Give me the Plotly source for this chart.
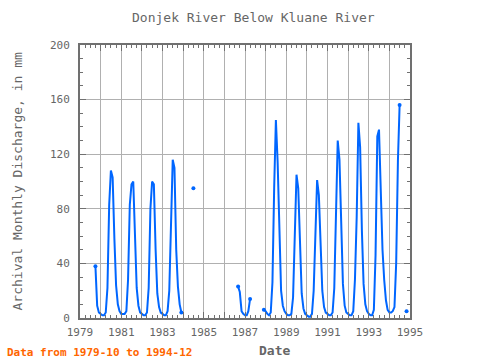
import plotly.graph_objects as go

# ---------------- data (monthly values, mm; None = missing) ----------------
y1979 = [None, None, None, None, None, None, None, None, None, 38, 9, 4]
y1980 = [3, 2, 2, 4, 22, 83, 108, 103, 58, 24, 10, 5]
y1981 = [3, 3, 3, 5, 28, 83, 98, 100, 55, 22, 9, 4]
y1982 = [3, 2, 2, 4, 22, 80, 100, 98, 50, 18, 8, 4]
y1983 = [3, 2, 2, 5, 20, 70, 116, 110, 50, 23, 10, 4]
y1984 = [None, None, None, None, None, None, 95, None, None, None, None, None]
y1985 = [None] * 12
y1986 = [None, None, None, None, None, None, None, None, 23, 19, 5, 3]
y1987 = [2, 2, 5, 14, None, None, None, None, None, None, None, 6]
y1988 = [5, 3, 2, 4, 26, 96, 145, 114, 60, 20, 9, 5]
y1989 = [3, 2, 2, 3, 15, 62, 105, 95, 45, 18, 7, 3]
y1990 = [2, 1, 1, 3, 20, 57, 101, 90, 48, 20, 8, 4]
y1991 = [3, 2, 2, 4, 22, 89, 130, 116, 60, 25, 9, 4]
y1992 = [3, 2, 2, 5, 28, 74, 143, 125, 64, 25, 10, 5]
y1993 = [3, 2, 2, 6, 46, 133, 138, 96, 50, 28, 13, 6]
y1994 = [4, 4, 5, 8, 40, 115, 156, None, None, None, 5, None]

years = list(range(1979, 1995))
yearly = [y1979, y1980, y1981, y1982, y1983, y1984, y1985, y1986,
          y1987, y1988, y1989, y1990, y1991, y1992, y1993, y1994]

x_tick_vals = [f"{y}-01-01" for y in range(1979, 1996)]
x_tick_text = ["1979", "", "1981", "", "1983", "", "1985", "", "1987", "",
               "1989", "", "1991", "", "1993", "", "1995"]
y_tick_vals = [0, 40, 80, 120, 160, 200]

# ---------------- build series ----------------
dates, vals = [], []
for yr, row in zip(years, yearly):
    for m, v in enumerate(row):
        dates.append(f"{yr}-{m + 1:02d}-01")
        vals.append(v)

first = next(i for i, v in enumerate(vals) if v is not None)
last = max(i for i, v in enumerate(vals) if v is not None)
dates, vals = dates[first:last + 1], vals[first:last + 1]

# segment endpoints (and isolated points) get a marker
mx, my = [], []
for i, v in enumerate(vals):
    if v is None:
        continue
    prev_missing = i == 0 or vals[i - 1] is None
    next_missing = i == len(vals) - 1 or vals[i + 1] is None
    if prev_missing or next_missing:
        mx.append(dates[i])
        my.append(v)

BLUE = "#0066ff"
GREY = "#666666"
FRAME = "#707070"
FONT = "DejaVu Sans Mono"

fig = go.Figure()
fig.add_trace(go.Scatter(x=dates, y=vals, mode="lines",
                         line=dict(color=BLUE, width=2),
                         connectgaps=False, showlegend=False))
fig.add_trace(go.Scatter(x=mx, y=my, mode="markers",
                         marker=dict(color=BLUE, size=4),
                         showlegend=False))

fig.update_layout(
    width=480, height=360,
    margin=dict(l=80, r=70, t=45, b=42),
    paper_bgcolor="white", plot_bgcolor="white",
    font=dict(family=FONT, size=11, color=GREY),
    xaxis=dict(
        type="date", range=["1979-01-01", "1995-01-01"],
        tickmode="array", tickvals=x_tick_vals, ticktext=x_tick_text,
        showgrid=True, gridcolor="#b0b0b0", gridwidth=1,
        ticks="inside", ticklen=6, tickcolor=FRAME, tickwidth=1,
        showline=True, linecolor=FRAME, linewidth=2, mirror="allticks",
        zeroline=False, ticklabelstandoff=3,
        minor=dict(dtick="M3", tick0="1979-01-01", ticks="inside",
                   ticklen=3, tickcolor=FRAME, showgrid=False),
        tickfont=dict(family=FONT, size=11, color=GREY),
    ),
    yaxis=dict(
        range=[0, 200], tickmode="array", tickvals=y_tick_vals,
        showgrid=True, gridcolor="#b0b0b0", gridwidth=1,
        ticks="inside", ticklen=6, tickcolor=FRAME, tickwidth=1,
        showline=True, linecolor=FRAME, linewidth=2, mirror="allticks",
        zeroline=False, ticklabelstandoff=6,
        minor=dict(dtick=10, tick0=0, ticks="inside", ticklen=3,
                   tickcolor=FRAME, showgrid=False),
        tickfont=dict(family=FONT, size=11, color=GREY),
    ),
)

fig.add_annotation(text="Donjek River Below Kluane River", xref="paper", yref="paper",
                   x=0.527, y=1.099, xanchor="center", yanchor="middle",
                   showarrow=False, font=dict(family=FONT, size=13, color=GREY))
fig.add_annotation(text="Archival Monthly Discharge, in mm", xref="paper", yref="paper",
                   x=-0.188, y=0.5, xanchor="center", yanchor="middle", textangle=-90,
                   showarrow=False, font=dict(family=FONT, size=13, color=GREY))
fig.add_annotation(text="<b>Date</b>", xref="paper", yref="paper",
                   x=0.588, y=-0.118, xanchor="center", yanchor="middle",
                   showarrow=False, font=dict(family=FONT, size=13, color=GREY))
fig.add_annotation(text="<b>Data from 1979-10 to 1994-12</b>", xref="paper", yref="paper",
                   x=-0.227, y=-0.125, xanchor="left", yanchor="middle",
                   showarrow=False, font=dict(family=FONT, size=11, color="#ff6600"))

fig.write_html("out.html", config={"displayModeBar": False},
               post_script="document.body.style.margin='0px';")
